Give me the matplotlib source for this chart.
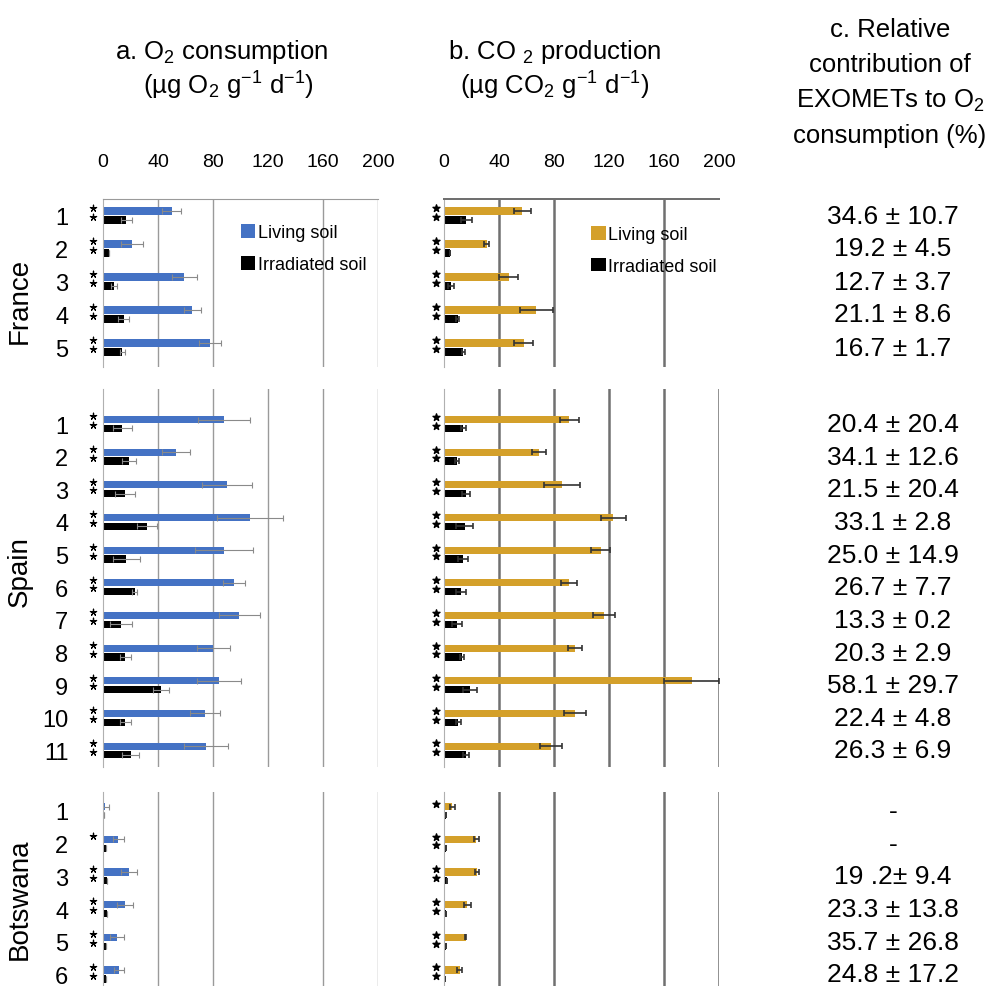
import numpy as np
import matplotlib.pyplot as plt
from matplotlib.patches import Patch
from matplotlib import transforms

plt.rcParams['font.family'] = ['Liberation Sans', 'DejaVu Sans']
plt.rcParams['mathtext.fontset'] = 'custom'
plt.rcParams['mathtext.rm'] = 'Liberation Sans'
plt.rcParams['mathtext.it'] = 'Liberation Sans:italic'

# ---- data ----
countries = ['France', 'Spain', 'Botswana']
site_labels = [[str(i) for i in range(1, 6)],
               [str(i) for i in range(1, 12)],
               [str(i) for i in range(1, 7)]]

# a. O2 consumption
o2_living = [[50, 21, 59, 65, 78],
             [88, 53, 90, 107, 88, 95, 99, 80, 84, 74, 75],
             [1.5, 11, 19, 16, 10, 11.5]]
o2_living_err = [[7, 8, 9, 6, 8],
                 [19, 10, 18, 24, 21, 8, 15, 12, 16, 11, 16],
                 [2.5, 4, 6, 6, 5, 3.5]]
o2_irr = [[17, 4, 8, 15, 14],
          [14, 19, 16, 32, 17, 23, 13, 16, 42, 16, 20],
          [1, 2, 3, 3, 2, 2]]
o2_irr_err = [[4, 0, 2, 4, 2],
              [7, 5, 7, 7, 10, 2, 8, 4, 6, 4, 6],
              [0, 0, 0, 0, 0, 0]]

# b. CO2 production
co2_living = [[57, 31, 47, 67, 58],
              [91, 69, 86, 123, 114, 91, 116, 95, 180, 95, 78],
              [6, 23.5, 24, 17, 15.8, 11.4]]
co2_living_err = [[6, 2, 7, 12, 7],
                  [7, 5, 13, 9, 7, 6, 8, 5, 20, 8, 8],
                  [2, 2, 1.5, 2.4, 0.5, 1.6]]
co2_irr = [[16, 4, 5, 10, 14],
           [14, 9.5, 16, 15, 14, 12.5, 9.5, 13, 19, 10.5, 16],
           [1.7, 1.7, 2, 1.7, 1.7, 1]]
co2_irr_err = [[4, 0, 2, 1, 1],
               [2, 1.5, 3, 6, 3.5, 3.5, 3.5, 1.5, 5, 1.5, 2],
               [0, 0, 0, 0, 0, 0]]

# significance stars (living, irradiated)
o2_star_living = [[1] * 5, [1] * 11, [0, 1, 1, 1, 1, 1]]
o2_star_irr = [[1] * 5, [1] * 11, [0, 0, 1, 1, 1, 1]]
co2_star_living = [[1] * 5, [1] * 11, [1] * 6]
co2_star_irr = [[1] * 5, [1] * 11, [0, 1, 1, 1, 1, 1]]

# c. relative contribution
contrib = [['34.6 ± 10.7', '19.2 ± 4.5', '12.7 ± 3.7', '21.1 ± 8.6', '16.7 ± 1.7'],
           ['20.4 ± 20.4', '34.1 ± 12.6', '21.5 ± 20.4', '33.1 ± 2.8', '25.0 ± 14.9',
            '26.7 ± 7.7', '13.3 ± 0.2', '20.3 ± 2.9', '58.1 ± 29.7', '22.4 ± 4.8',
            '26.3 ± 6.9'],
           ['-', '-', '19 .2± 9.4', '23.3 ± 13.8', '35.7 ± 26.8', '24.8 ± 17.2']]

xticks = [0, 40, 80, 120, 160, 200]
grid_a = [[40, 80, 160, 200], [40, 80, 120, 160, 200], [40, 80, 160, 200]]
grid_b = [[40, 80, 160], [40, 80, 120, 160, 200], [40, 80, 160, 200]]

blue = '#4472C4'
gold = '#D4A02A'

# ---- layout (pixels) ----
W, H = 1001, 987
sec_top = [200, 390, 793]
sec_bottom = [368, 768, 987]
sec_row0 = [216.5, 425, 812]
sec_step = [33.0, 32.65, 32.7]
label_y = [0.40, 0.52, 0.45]   # country label centre (axes fraction)


def box(l, t, r, b):
    return [l / W, 1 - b / H, (r - l) / W, (b - t) / H]


fig = plt.figure(figsize=(W / 100, H / 100), dpi=100)

bh = 0.22
off = 0.135

for s in range(3):
    n = len(site_labels[s])
    ylo = (sec_bottom[s] - sec_row0[s]) / sec_step[s]
    yhi = (sec_top[s] - sec_row0[s]) / sec_step[s]
    y = np.arange(n)

    panels = [
        (103, o2_living, o2_living_err, o2_irr, o2_irr_err, blue, grid_a,
         o2_star_living, o2_star_irr, '#9a9a9a', 1.0),
        (444, co2_living, co2_living_err, co2_irr, co2_irr_err, gold, grid_b,
         co2_star_living, co2_star_irr, '#707070', 1.8),
    ]
    for p, (x0, liv, liv_e, irr, irr_e, col, grid, st_l, st_i, gcol, glw) in enumerate(panels):
        ax = fig.add_axes(box(x0, sec_top[s], x0 + 275, sec_bottom[s]))
        ax.set_xlim(0, 200)
        ax.set_ylim(ylo, yhi)
        for g in grid[s]:
            ax.axvline(g, color=gcol, lw=glw, zorder=0)
        ecol = '#8a8a8a' if p == 0 else '#333333'
        elw = 0.8 if p == 0 else 1.2
        ax.barh(y - off, liv[s], height=bh, color=col, zorder=2,
                xerr=liv_e[s], error_kw=dict(ecolor=ecol, elinewidth=elw, capsize=2, capthick=elw))
        ax.barh(y + off, irr[s], height=bh, color='black', zorder=2,
                xerr=irr_e[s], error_kw=dict(ecolor=ecol, elinewidth=elw, capsize=2, capthick=elw))

        for sp in ['right', 'bottom']:
            ax.spines[sp].set_visible(False)
        ax.spines['left'].set_color('#b0b0b0')
        ax.spines['left'].set_linewidth(0.8)
        if s == 0:
            ax.spines['top'].set_color(gcol)
            ax.spines['top'].set_linewidth(glw * 0.8)
            ax.xaxis.tick_top()
            ax.set_xticks(xticks)
            ax.tick_params(axis='x', length=0, pad=21, labelsize=14)
        else:
            ax.spines['top'].set_visible(False)
            ax.set_xticks([])

        # significance stars
        xs = -7.3 if p == 0 else -5.8
        for i in range(n):
            for flag, dy in ((st_l[s][i], -off), (st_i[s][i], off)):
                if flag:
                    if p == 0:
                        ax.scatter([xs], [i + dy - 0.1], marker=(5, 2, 0), s=22,
                                   color='black', linewidths=0.9, clip_on=False, zorder=3)
                    else:
                        ax.scatter([xs], [i + dy - 0.08], marker='*', s=28,
                                   color='black', clip_on=False, zorder=3)

        if p == 0:
            ax.set_yticks(y)
            ax.set_yticklabels(site_labels[s], fontsize=17)
            ax.tick_params(axis='y', length=0, pad=25)
            ax.set_ylabel(countries[s], fontsize=20, labelpad=0)
            ax.yaxis.set_label_coords(-0.255, label_y[s])
            # panel c values aligned with rows
            tr = transforms.blended_transform_factory(fig.transFigure, ax.transData)
            for i in range(n):
                fig.text(893 / W, i, contrib[s][i], transform=tr, fontsize=19,
                         ha='center', va='center')
        else:
            ax.set_yticks([])

        if s == 0:
            handles = [Patch(facecolor=col, edgecolor='none'),
                       Patch(facecolor='black', edgecolor='none')]
            ax.legend(handles, ['Living soil', 'Irradiated soil'], frameon=False,
                      loc='upper left',
                      bbox_to_anchor=(0.50 if p == 0 else 0.535, 0.85 if p == 0 else 0.84),
                      fontsize=13, handlelength=0.8, handleheight=0.8,
                      handletextpad=0.15, labelspacing=0.8, borderpad=0,
                      borderaxespad=0)

# headers
fig.text(222 / W, 1 - 52 / H, r'a. O$_2$ consumption', fontsize=18.5, ha='center', va='center')
fig.text(228 / W, 1 - 86 / H, r'(µg O$_2$ g$^{-1}$ d$^{-1}$)', fontsize=18.5, ha='center', va='center')
fig.text(555 / W, 1 - 52 / H, r'b. CO $_2$ production', fontsize=18.5, ha='center', va='center')
fig.text(555 / W, 1 - 86 / H, r'(µg CO$_2$ g$^{-1}$ d$^{-1}$)', fontsize=18.5, ha='center', va='center')
fig.text(890 / W, 1 - 30 / H, 'c. Relative', fontsize=18.5, ha='center', va='center')
fig.text(890 / W, 1 - 65 / H, 'contribution of', fontsize=18.5, ha='center', va='center')
fig.text(890 / W, 1 - 101 / H, r'EXOMETs to O$_2$', fontsize=18.5, ha='center', va='center')
fig.text(890 / W, 1 - 136 / H, 'consumption (%)', fontsize=18.5, ha='center', va='center')

fig.savefig('out.png', dpi=100, facecolor='white')
